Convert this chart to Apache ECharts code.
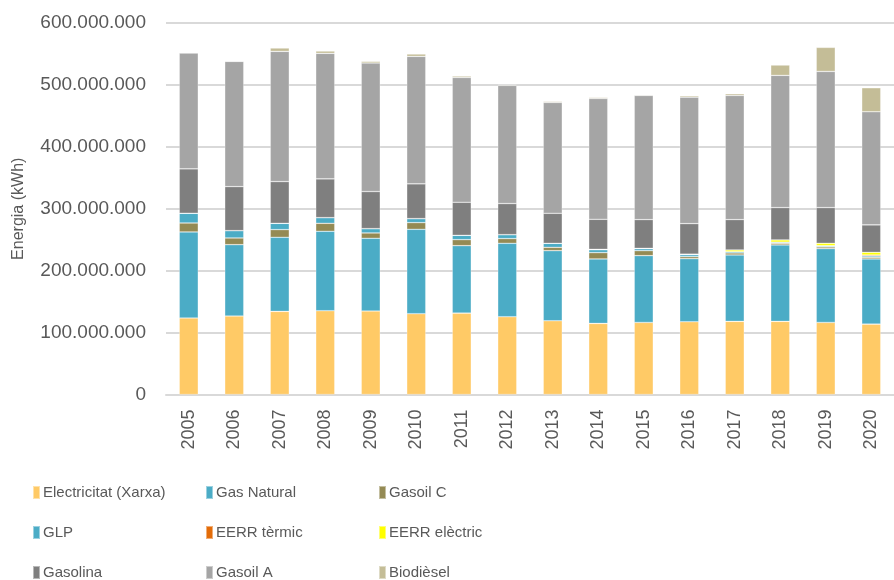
<!DOCTYPE html>
<html>
<head>
<meta charset="utf-8">
<script src="https://cdn.jsdelivr.net/npm/echarts@6/dist/echarts.min.js"></script>
<style>
  html, body {margin: 0; padding: 0; background: #fff;}
  #chart {width: 894px; height: 580px;}
</style>
</head>
<body>
<div id="chart"></div>
<script>
// anys
let years = ['2005', '2006', '2007', '2008', '2009', '2010', '2011', '2012',
  '2013', '2014', '2015', '2016', '2017', '2018', '2019', '2020'];

// valors en milions de kWh, llegits del gràfic
let electricitat = [123.5, 126.7, 134.2, 135.3, 134.8, 130.5, 131.5, 125.6, 119.1, 114.8, 116.4, 117.5, 118.1, 118.1, 116.4, 113.7];
let gasNatural = [139, 115.3, 119.7, 128.3, 117.5, 136.3, 108.9, 118.6, 113.2, 104.1, 107.9, 101.9, 107.2, 123.4, 119.2, 105.2];
let gasoilC = [14.5, 10.8, 12.4, 12.9, 8.6, 10.8, 9.7, 7.6, 5.4, 10.2, 8, 3.2, 3.3, 2.7, 2.7, 2.7];
let glp = [15.7, 11.9, 10.2, 9.2, 7, 6.5, 7, 6.4, 6.5, 4.8, 3.3, 3.3, 2.1, 1.6, 1.6, 2.1];
let eerrTermic = [0, 0, 0, 0, 0, 0, 0, 0, 0, 0, 0, 0, 0, 0.3, 0.5, 1.6];
let eerrElectric = [0, 0, 0, 0, 0, 0, 0, 0, 0, 0.6, 0.5, 0.8, 2.7, 3.5, 3.8, 4.3];
let gasolina = [71.7, 71.1, 67.4, 62.5, 59.9, 56.1, 53.4, 50.2, 48.5, 48.5, 46.4, 49.3, 49.1, 52.3, 57.7, 44.3];
let gasoilA = [187.1, 202.2, 210.3, 202.8, 207.5, 205.9, 201.6, 190.8, 179, 195.1, 200.5, 204.3, 200.5, 213.5, 219.9, 182.7];
let biodiesel = [0.5, 0.5, 5.4, 3.7, 2.7, 3.8, 2.2, 1.1, 1.6, 1.6, 1.1, 2.2, 2.7, 16.7, 38.8, 38.8];

let yTicks = [0, 100000000, 200000000, 300000000, 400000000, 500000000, 600000000];

let fonts = [
  {name: 'Electricitat (Xarxa)', data: electricitat, color: '#FFCA66'},
  {name: 'Gas Natural', data: gasNatural, color: '#4BACC6'},
  {name: 'Gasoil C', data: gasoilC, color: '#948A54'},
  {name: 'GLP', data: glp, color: '#4BACC6'},
  {name: 'EERR tèrmic', data: eerrTermic, color: '#E36C09'},
  {name: 'EERR elèctric', data: eerrElectric, color: '#FFFF00'},
  {name: 'Gasolina', data: gasolina, color: '#7F7F7F'},
  {name: 'Gasoil A', data: gasoilA, color: '#A5A5A5'},
  {name: 'Biodièsel', data: biodiesel, color: '#C4BD97'}
];

let txt = '#595959';
let fmt = function (v) {
  return String(v).replace(/\B(?=(\d{3})+(?!\d))/g, '.');
};

// llegenda: 3 columnes x 3 files (ordre per files)
let colX = [32, 205, 378];
let rowY = [485, 525, 565];
let legends = fonts.map(function (f, i) {
  return {
    data: [f.name],
    left: colX[i % 3], top: rowY[Math.floor(i / 3)],
    itemWidth: 7, itemHeight: 13, itemGap: 0, padding: 0,
    icon: 'rect',
    textStyle: {color: txt, fontSize: 15, fontFamily: '"Liberation Sans", sans-serif', padding: [0, 0, 0, -2]}
  };
});

let chart = echarts.init(document.getElementById('chart'), null, {renderer: 'canvas'});
chart.setOption({
  animation: false,
  backgroundColor: '#fff',
  legend: legends,
  grid: {left: 166, right: -11, top: 23, bottom: 185.5, containLabel: false},
  xAxis: {
    type: 'category', data: years,
    axisLine: {lineStyle: {color: '#D9D9D9', width: 2}},
    axisTick: {show: false},
    axisLabel: {rotate: 90, color: txt, fontSize: 18, fontFamily: '"Liberation Sans", sans-serif', margin: 15}
  },
  yAxis: {
    type: 'value', min: yTicks[0], max: yTicks[yTicks.length - 1], interval: yTicks[1] - yTicks[0],
    name: 'Energia (kWh)', nameLocation: 'middle', nameGap: 139,
    nameTextStyle: {color: txt, fontSize: 16, fontFamily: '"Liberation Sans", sans-serif'},
    axisLine: {show: false}, axisTick: {show: false},
    splitLine: {lineStyle: {color: '#D9D9D9', width: 2}},
    axisLabel: {color: txt, fontSize: 19, fontFamily: '"Liberation Sans", sans-serif', margin: 20, formatter: fmt}
  },
  series: fonts.map(function (f) {
    return {
      type: 'bar', name: f.name, stack: 'total', barWidth: 19,
      itemStyle: {color: f.color, borderColor: 'rgba(255,255,255,0.45)', borderWidth: 0.6},
      data: f.data.map(function (v) { return Math.round(v * 1000000); })
    };
  })
});
</script>
</body>
</html>
